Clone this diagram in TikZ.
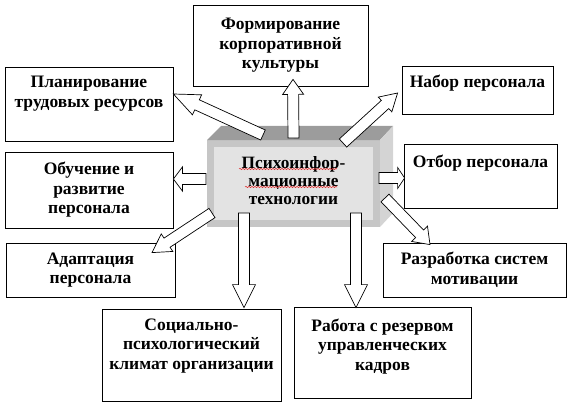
\documentclass[tikz,border=0pt]{standalone}
\usepackage{fontspec}
\setmainfont{Liberation Serif}
\usepackage{tikz}
\usetikzlibrary{calc,decorations.pathmorphing}
\definecolor{cubetop}{HTML}{9C9C9C}
\definecolor{cubeedge}{HTML}{C6C6C6}
\definecolor{cubeface}{HTML}{E3E3E3}
\definecolor{cubeside}{HTML}{D4D4D4}
\definecolor{spellred}{HTML}{E03030}
\tikzset{
  box/.style={draw=black, fill=white, line width=0.8pt, align=center, inner sep=2pt, font=\bfseries\fontsize{17.5}{19.5}\selectfont},
  cube/.style={draw=cubeedge, fill=cubeface, line width=7pt, align=center, inner sep=2pt, font=\bfseries\fontsize{17.3}{18}\selectfont},
  blockarr/.style={draw=black, fill=white, line width=0.7pt, line join=miter},
  spell/.style={draw=spellred, line width=0.5pt, decorate, decoration={snake, segment length=3pt, amplitude=0.7pt}}
}
\newcommand{\txtlift}[1]{\rule[-#1]{0pt}{#1}}
\newcommand{\blockarrow}[4]{% tail, tip, head length, head half width
  \coordinate (ba-s) at (#1);
  \coordinate (ba-t) at (#2);
  \coordinate (ba-h) at ($(ba-t)!#3!(ba-s)$);
  \draw[blockarr] ($(ba-s)!5.5pt!90:(ba-t)$) -- ($(ba-h)!5.5pt!90:(ba-t)$)
    -- ($(ba-h)!#4!90:(ba-t)$) -- (ba-t) -- ($(ba-h)!#4!-90:(ba-t)$)
    -- ($(ba-h)!5.5pt!-90:(ba-t)$) -- ($(ba-s)!5.5pt!-90:(ba-t)$) -- cycle;
}

\begin{document}
\begin{tikzpicture}[x=1pt, y=-1pt]
  \useasboundingbox (0,0) rectangle (567,409);

  % central block
  \node[cube, minimum width=166pt, minimum height=80pt] (pit) at (293.5,183.5) {Психоинфор-\\мационные\\технологии\txtlift{7pt}};
  \fill[cubetop] (pit.north west) -- ++(14,-14) -- ($(pit.north east)+(13,-14)$) -- (pit.north east) -- cycle;
  \fill[cubeside] (pit.north east) -- ++(13,-14) -- ($(pit.south east)+(13,-14)$) -- (pit.south east) -- cycle;
  \draw[spell] ([shift={(-54.5,-14.5)}]pit.center) -- ([shift={(43.5,-14.5)}]pit.center);
  \draw[spell] ([shift={(-48.5,3.5)}]pit.center) -- ([shift={(43.5,3.5)}]pit.center);

  % boxes
  \node[box, minimum width=175pt, minimum height=81pt] (kultura) at (280.5,45.5) {Формирование\\корпоративной\\культуры};
  \node[box, minimum width=168pt, minimum height=74pt] (plan) at (89,104) {Планирование\\трудовых ресурсов\txtlift{24pt}};
  \node[box, minimum width=151pt, minimum height=48pt] (nabor) at (477.5,90) {Набор персонала\txtlift{18pt}};
  \node[box, minimum width=168pt, minimum height=76pt] (obuch) at (89,190) {Обучение и\\развитие\\персонала};
  \node[box, minimum width=169pt, minimum height=54pt] (adapt) at (90.5,270) {Адаптация\\персонала};
  \node[box, minimum width=153pt, minimum height=64pt] (otbor) at (480.5,176) {Отбор персонала\txtlift{30pt}};
  \node[box, minimum width=183pt, minimum height=54pt] (motiv) at (474.5,270) {Разработка систем\\мотивации};
  \node[box, minimum width=179pt, minimum height=92pt] (klimat) at (191.5,355) {Социально-\\психологический\\климат организации\txtlift{22pt}};
  \node[box, minimum width=177pt, minimum height=91pt] (rezerv) at (382.5,352.5) {Работа с резервом\\управленческих\\кадров\txtlift{16pt}};

  % arrows
  \blockarrow{[shift={(0,-2)}]pit.north}{[shift={(12.5,-7)}]kultura.south}{15pt}{10.5pt}
  \blockarrow{[shift={(-30.5,-5)}]pit.north}{[shift={(0,-10)}]plan.east}{26pt}{11pt}
  \blockarrow{[shift={(49.5,3)}]pit.north}{[shift={(-4,3)}]nabor.west}{17pt}{10pt}
  \blockarrow{[shift={(-1,-4.5)}]pit.west}{[shift={(0,-11)}]obuch.east}{9pt}{12pt}
  \blockarrow{[shift={(5,-14)}]pit.south west}{[shift={(61.5,10)}]adapt.north}{18pt}{10.5pt}
  \blockarrow{[shift={(-49.5,-14)}]pit.south}{[shift={(52.5,-1)}]klimat.north}{23pt}{11.5pt}
  \blockarrow{[shift={(62.5,-14)}]pit.south}{[shift={(-26.5,1)}]rezerv.north}{23pt}{11.5pt}
  \blockarrow{[shift={(-1,-5.5)}]pit.east}{[shift={(1,2)}]otbor.west}{7pt}{10.5pt}
  \blockarrow{[shift={(5,14.5)}]pit.east}{[shift={(-44.5,2)}]motiv.north}{15pt}{11pt}
\end{tikzpicture}
\end{document}
